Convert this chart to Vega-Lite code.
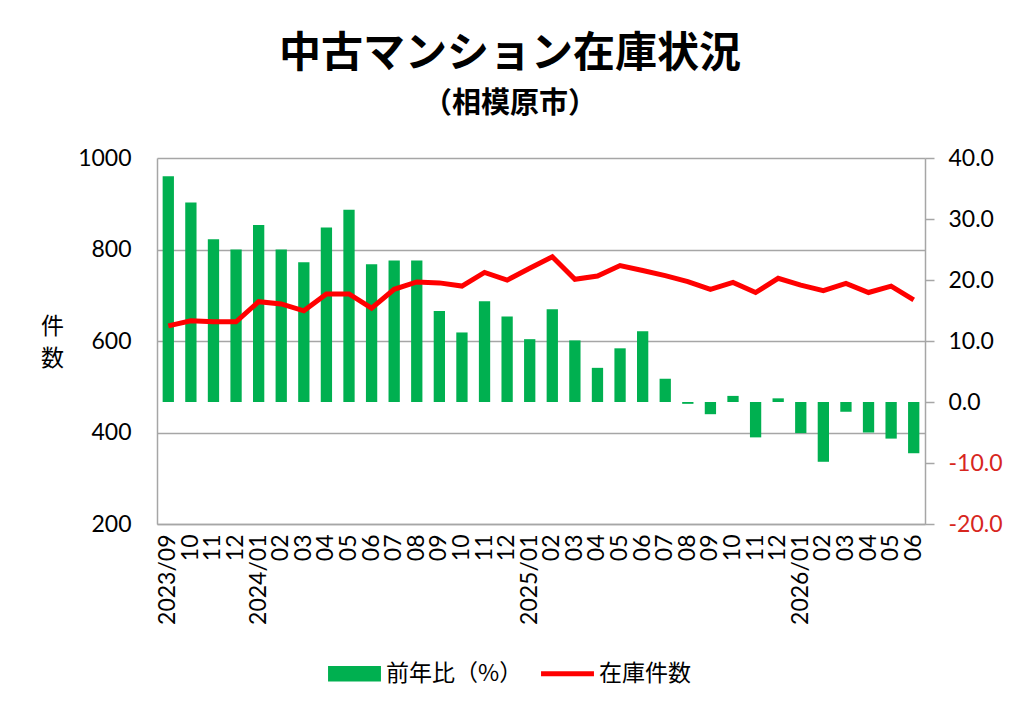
{
  "$schema": "https://vega.github.io/schema/vega-lite/v6.json",
  "description": "中古マンション在庫状況（相模原市）",
  "width": 768,
  "height": 366,
  "padding": {"left": 40, "top": 33, "right": 30, "bottom": 20},
  "background": "white",
  "title": {
    "text": "中古マンション在庫状況",
    "subtitle": "（相模原市）",
    "anchor": "middle",
    "dx": -31,
    "font": "Noto Sans CJK JP",
    "fontSize": 42,
    "fontWeight": "bold",
    "color": "black",
    "subtitleFont": "Noto Sans CJK JP",
    "subtitleFontSize": 29,
    "subtitleFontWeight": "bold",
    "subtitleColor": "black",
    "subtitlePadding": 14,
    "offset": 27
  },
  "data": {
    "values": [
      {"ym": "2023/09", "yoy": 37.0, "stock": 633},
      {"ym": "2023/10", "yoy": 32.7, "stock": 644},
      {"ym": "2023/11", "yoy": 26.7, "stock": 642},
      {"ym": "2023/12", "yoy": 25.0, "stock": 642},
      {"ym": "2024/01", "yoy": 29.0, "stock": 686},
      {"ym": "2024/02", "yoy": 25.0, "stock": 681},
      {"ym": "2024/03", "yoy": 22.9, "stock": 666},
      {"ym": "2024/04", "yoy": 28.6, "stock": 703},
      {"ym": "2024/05", "yoy": 31.5, "stock": 703},
      {"ym": "2024/06", "yoy": 22.6, "stock": 672},
      {"ym": "2024/07", "yoy": 23.2, "stock": 713},
      {"ym": "2024/08", "yoy": 23.2, "stock": 729},
      {"ym": "2024/09", "yoy": 14.9, "stock": 727},
      {"ym": "2024/10", "yoy": 11.4, "stock": 720},
      {"ym": "2024/11", "yoy": 16.5, "stock": 750},
      {"ym": "2024/12", "yoy": 14.0, "stock": 733},
      {"ym": "2025/01", "yoy": 10.3, "stock": 759},
      {"ym": "2025/02", "yoy": 15.2, "stock": 784},
      {"ym": "2025/03", "yoy": 10.1, "stock": 735},
      {"ym": "2025/04", "yoy": 5.6, "stock": 742},
      {"ym": "2025/05", "yoy": 8.8, "stock": 765},
      {"ym": "2025/06", "yoy": 11.6, "stock": 754},
      {"ym": "2025/07", "yoy": 3.8, "stock": 743},
      {"ym": "2025/08", "yoy": -0.3, "stock": 730},
      {"ym": "2025/09", "yoy": -2.0, "stock": 713},
      {"ym": "2025/10", "yoy": 1.0, "stock": 728},
      {"ym": "2025/11", "yoy": -5.8, "stock": 706},
      {"ym": "2025/12", "yoy": 0.6, "stock": 737},
      {"ym": "2026/01", "yoy": -5.1, "stock": 722},
      {"ym": "2026/02", "yoy": -9.8, "stock": 710},
      {"ym": "2026/03", "yoy": -1.6, "stock": 726},
      {"ym": "2026/04", "yoy": -5.0, "stock": 706},
      {"ym": "2026/05", "yoy": -6.0, "stock": 720},
      {"ym": "2026/06", "yoy": -8.4, "stock": 690}
    ]
  },
  "encoding": {
    "x": {
      "field": "ym",
      "type": "ordinal",
      "sort": null,
      "scale": {"paddingInner": 0.5, "paddingOuter": 0.25},
      "axis": {
        "title": null,
        "labelAngle": -90,
        "labelFont": "Lato",
        "labelFontSize": 23,
        "labelColor": "black",
        "labelPadding": 10,
        "ticks": false,
        "domainColor": "#a6a6a6",
        "domainWidth": 1.5,
        "labelExpr": "(slice(datum.value, 5) == '01' || datum.value == '2023/09') ? datum.value : slice(datum.value, 5)"
      }
    }
  },
  "layer": [
    {
      "mark": {"type": "bar", "color": "#00b050"},
      "encoding": {
        "y": {
          "field": "yoy",
          "type": "quantitative",
          "scale": {"domain": [-20, 40], "nice": false},
          "axis": {
            "orient": "right",
            "title": null,
            "values": [-20, -10, 0, 10, 20, 30, 40],
            "labelExpr": "(datum.value < 0 ? '-' : '') + format(abs(datum.value), '.1f')",
            "grid": false,
            "ticks": true,
            "tickSize": 9,
            "tickColor": "#a6a6a6",
            "tickWidth": 1.5,
            "domainColor": "#a6a6a6",
            "domainWidth": 1.5,
            "labelFont": "Lato",
            "labelFontSize": 23,
            "labelPadding": 14,
            "labelColor": {"expr": "datum.value < 0 ? '#d7261e' : 'black'"}
          }
        },
        "color": {
          "datum": "前年比（%）",
          "scale": {"domain": ["前年比（%）", "在庫件数"], "range": ["#00b050", "#ff0000"]},
          "legend": {
            "orient": "none",
            "direction": "horizontal",
            "legendX": 171,
            "legendY": 489,
            "title": null,
            "padding": 0,
            "symbolSize": 2800,
            "columnPadding": 18,
            "labelOffset": 5,
            "labelFont": "Noto Sans CJK JP",
            "labelFontSize": 23,
            "labelColor": "black",
            "labelLimit": 300,
            "encode": {
              "symbols": {
                "update": {
                  "shape": {"signal": "datum.value === '在庫件数' ? 'M-1,-0.09H1V0.09H-1Z' : 'M-1,-0.29H1V0.29H-1Z'"},
                  "fill": {"scale": "color", "field": "value"},
                  "stroke": {"value": "transparent"},
                  "strokeWidth": {"value": 0},
                  "opacity": {"value": 1}
                }
              }
            }
          }
        }
      }
    },
    {
      "mark": {"type": "line", "strokeWidth": 5, "strokeJoin": "miter"},
      "encoding": {
        "y": {
          "field": "stock",
          "type": "quantitative",
          "scale": {"domain": [200, 1000], "nice": false},
          "axis": {
            "orient": "left",
            "title": ["件", "数"],
            "titleAngle": 0,
            "titleAlign": "center",
            "titleBaseline": "middle",
            "titleX": -105,
            "titleY": 168,
            "titleFont": "Noto Sans CJK JP",
            "titleFontSize": 23,
            "titleFontWeight": "normal",
            "titleLineHeight": 32,
            "titleColor": "black",
            "values": [200, 400, 600, 800, 1000],
            "format": "d",
            "ticks": false,
            "grid": true,
            "gridColor": "#a6a6a6",
            "gridWidth": 1.5,
            "domainColor": "#a6a6a6",
            "domainWidth": 1.5,
            "labelFont": "Lato",
            "labelFontSize": 23,
            "labelColor": "black",
            "labelPadding": 26
          }
        },
        "color": {"datum": "在庫件数"}
      }
    }
  ],
  "resolve": {"scale": {"y": "independent"}},
  "config": {
    "view": {"stroke": null}
  }
}
